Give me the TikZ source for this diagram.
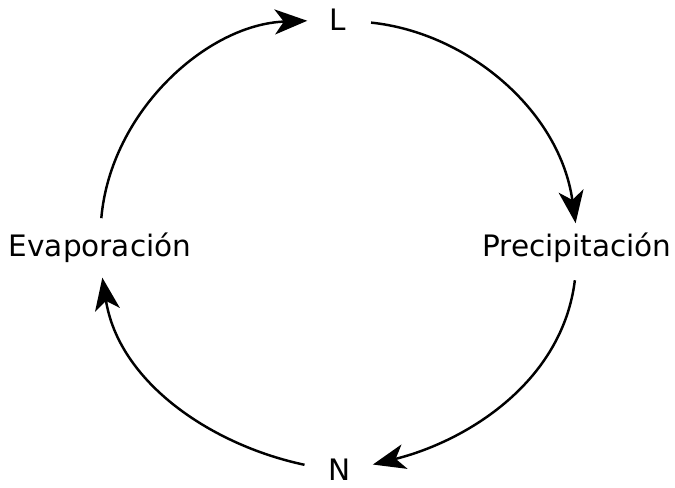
\documentclass[tikz,border=0pt]{standalone}
\usepackage{fontspec}
\setmainfont{DejaVu Sans}
\usetikzlibrary{arrows.meta}
\begin{document}
\begin{tikzpicture}[font=\fontsize{16.8}{20}\selectfont,
  lbl/.style={inner sep=0pt,outer sep=0pt},
  ar/.style={-{Stealth[length=6.5mm,width=5mm,inset=1.8mm]},line width=1.4pt}]
\useasboundingbox (0,0) rectangle (13.5,9.76);
\node[lbl] (L) at (6.76,9.36) {L};
\node[lbl] (P) at (11.54,4.8) {Precipitación};
\node[lbl] (N) at (6.8,0.36) {N};
\node[lbl] (E) at (2.0,4.8) {Evaporación};
\draw[ar,shorten <=0.5cm,shorten >=0.2cm] (L.east) to[out=-6,in=98] (P.north);
\draw[ar,shorten <=0.35cm,shorten >=0.45cm] (P.south) to[out=-97,in=14] (N.east);
\draw[ar,shorten <=0.5cm,shorten >=0.3cm] (N.west) to[out=168,in=-81] (E.south);
\draw[ar,shorten <=0.3cm,shorten >=0.45cm] (E.north) to[out=85,in=182] (L.west);
\end{tikzpicture}
\end{document}
